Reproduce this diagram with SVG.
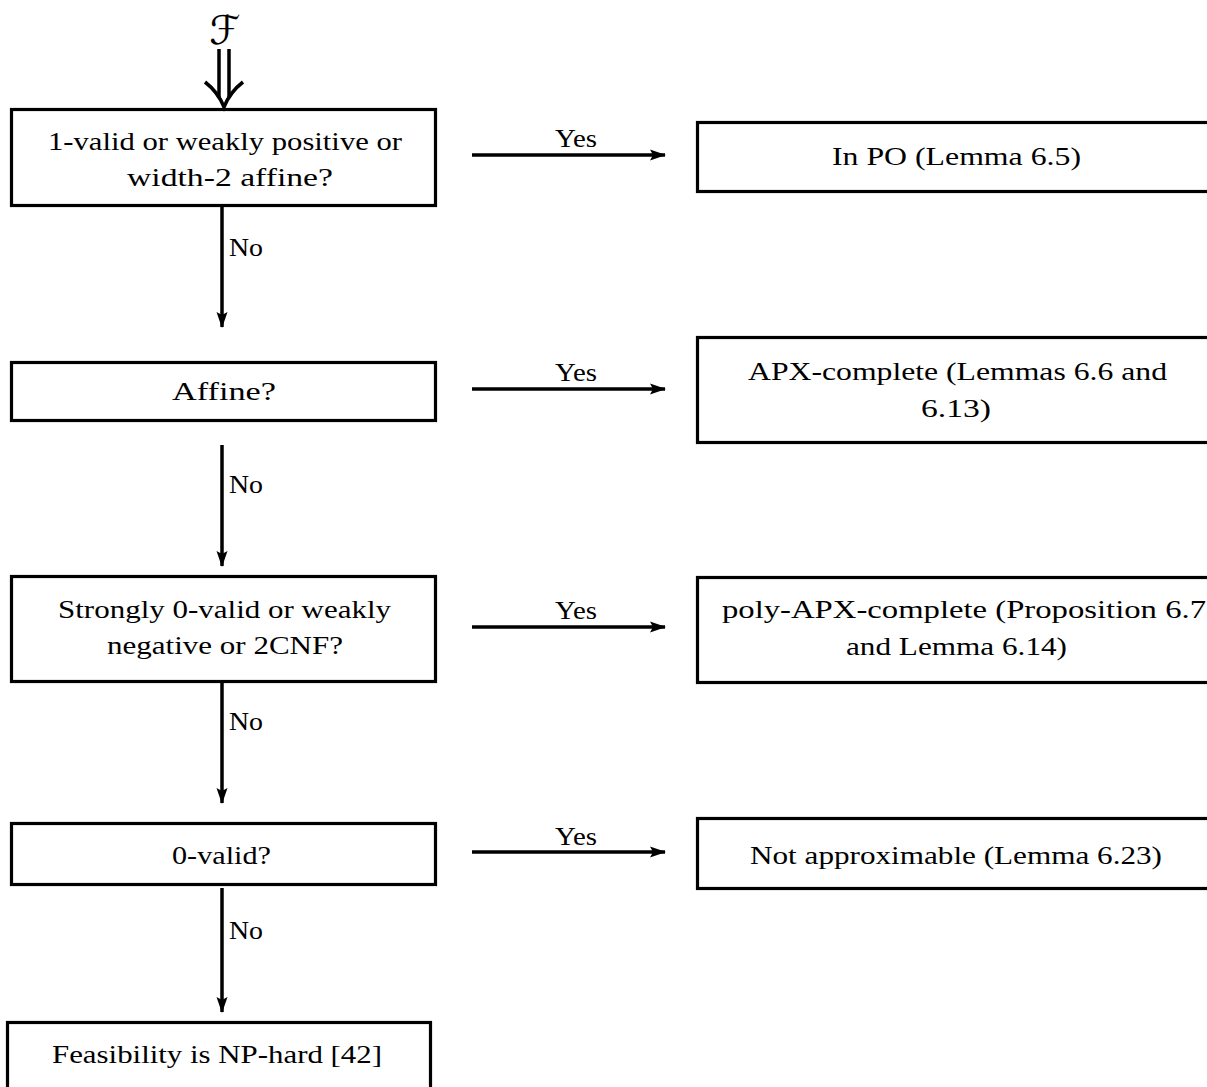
<svg xmlns="http://www.w3.org/2000/svg" width="1207" height="1087" viewBox="0 0 1207 1087">
<style>
.box{fill:none;stroke:#000;stroke-width:3.2}
.ln{fill:none;stroke:#000;stroke-width:3.5}
text{font-family:"Liberation Serif","DejaVu Serif",serif;font-size:25px;fill:#000}
</style>
<defs>
<marker id="ah" markerWidth="16" markerHeight="12" refX="15" refY="6" orient="auto" markerUnits="userSpaceOnUse">
<path d="M0,0.5 L16,6 L0,11.5 L3,6 Z" fill="#000"/>
</marker>
</defs>
<rect width="1207" height="1087" fill="#fff"/>
<g id="input">
<text x="225" y="44" text-anchor="middle" style="font-family:'DejaVu Sans',sans-serif;font-style:italic;font-size:40px">ℱ</text>
</g>
<g id="q1">
<rect class="box" x="11.5" y="109.5" width="424" height="96"/>
<text x="48" y="150" textLength="354" lengthAdjust="spacingAndGlyphs">1-valid or weakly positive or</text>
<text x="127" y="186" textLength="206" lengthAdjust="spacingAndGlyphs">width-2 affine?</text>
</g>
<g id="r1">
<rect class="box" x="697.5" y="122.5" width="530" height="69"/>
<text x="832" y="165" textLength="249" lengthAdjust="spacingAndGlyphs">In PO (Lemma 6.5)</text>
</g>
<g id="q2">
<rect class="box" x="11.5" y="362.5" width="424" height="58"/>
<text x="172" y="400" textLength="104" lengthAdjust="spacingAndGlyphs">Affine?</text>
</g>
<g id="r2">
<rect class="box" x="697.5" y="337.5" width="530" height="105"/>
<text x="748" y="380" textLength="419" lengthAdjust="spacingAndGlyphs">APX-complete (Lemmas 6.6 and</text>
<text x="921" y="417" textLength="70" lengthAdjust="spacingAndGlyphs">6.13)</text>
</g>
<g id="q3">
<rect class="box" x="11.5" y="576.5" width="424" height="105"/>
<text x="58" y="618" textLength="333" lengthAdjust="spacingAndGlyphs">Strongly 0-valid or weakly</text>
<text x="107" y="654" textLength="236" lengthAdjust="spacingAndGlyphs">negative or 2CNF?</text>
</g>
<g id="r3">
<rect class="box" x="697.5" y="577.5" width="530" height="105"/>
<text x="722" y="618" textLength="484" lengthAdjust="spacingAndGlyphs">poly-APX-complete (Proposition 6.7</text>
<text x="846" y="655" textLength="221" lengthAdjust="spacingAndGlyphs">and Lemma 6.14)</text>
</g>
<g id="q4">
<rect class="box" x="11.5" y="823.5" width="424" height="61"/>
<text x="172" y="864" textLength="99" lengthAdjust="spacingAndGlyphs">0-valid?</text>
</g>
<g id="r4">
<rect class="box" x="697.5" y="818.5" width="530" height="70"/>
<text x="750" y="864" textLength="412" lengthAdjust="spacingAndGlyphs">Not approximable (Lemma 6.23)</text>
</g>
<g id="r5">
<rect class="box" x="7.5" y="1022.5" width="423" height="90"/>
<text x="52" y="1063" textLength="330" lengthAdjust="spacingAndGlyphs">Feasibility is NP-hard [42]</text>
</g>
<g id="connectors">
<line class="ln" x1="219" y1="49" x2="219" y2="97" stroke-width="2.5"/>
<line class="ln" x1="229" y1="49" x2="229" y2="97" stroke-width="2.5"/>
<path class="ln" stroke-width="2.5" d="M205,82 Q218,92 224,107 Q230,92 243,82"/>
<line class="ln" x1="222" y1="207" x2="222" y2="327" marker-end="url(#ah)"/>
<line class="ln" x1="222" y1="445" x2="222" y2="566" marker-end="url(#ah)"/>
<line class="ln" x1="222" y1="683" x2="222" y2="803" marker-end="url(#ah)"/>
<line class="ln" x1="222" y1="888" x2="222" y2="1012" marker-end="url(#ah)"/>
<line class="ln" x1="472" y1="155" x2="665" y2="155" marker-end="url(#ah)"/>
<line class="ln" x1="472" y1="389" x2="665" y2="389" marker-end="url(#ah)"/>
<line class="ln" x1="472" y1="627" x2="665" y2="627" marker-end="url(#ah)"/>
<line class="ln" x1="472" y1="852" x2="665" y2="852" marker-end="url(#ah)"/>
<text x="555" y="147" textLength="42" lengthAdjust="spacingAndGlyphs">Yes</text>
<text x="555" y="381" textLength="42" lengthAdjust="spacingAndGlyphs">Yes</text>
<text x="555" y="619" textLength="42" lengthAdjust="spacingAndGlyphs">Yes</text>
<text x="555" y="845" textLength="42" lengthAdjust="spacingAndGlyphs">Yes</text>
<text x="229" y="256" textLength="34" lengthAdjust="spacingAndGlyphs">No</text>
<text x="229" y="493" textLength="34" lengthAdjust="spacingAndGlyphs">No</text>
<text x="229" y="730" textLength="34" lengthAdjust="spacingAndGlyphs">No</text>
<text x="229" y="939" textLength="34" lengthAdjust="spacingAndGlyphs">No</text>
</g>
</svg>
